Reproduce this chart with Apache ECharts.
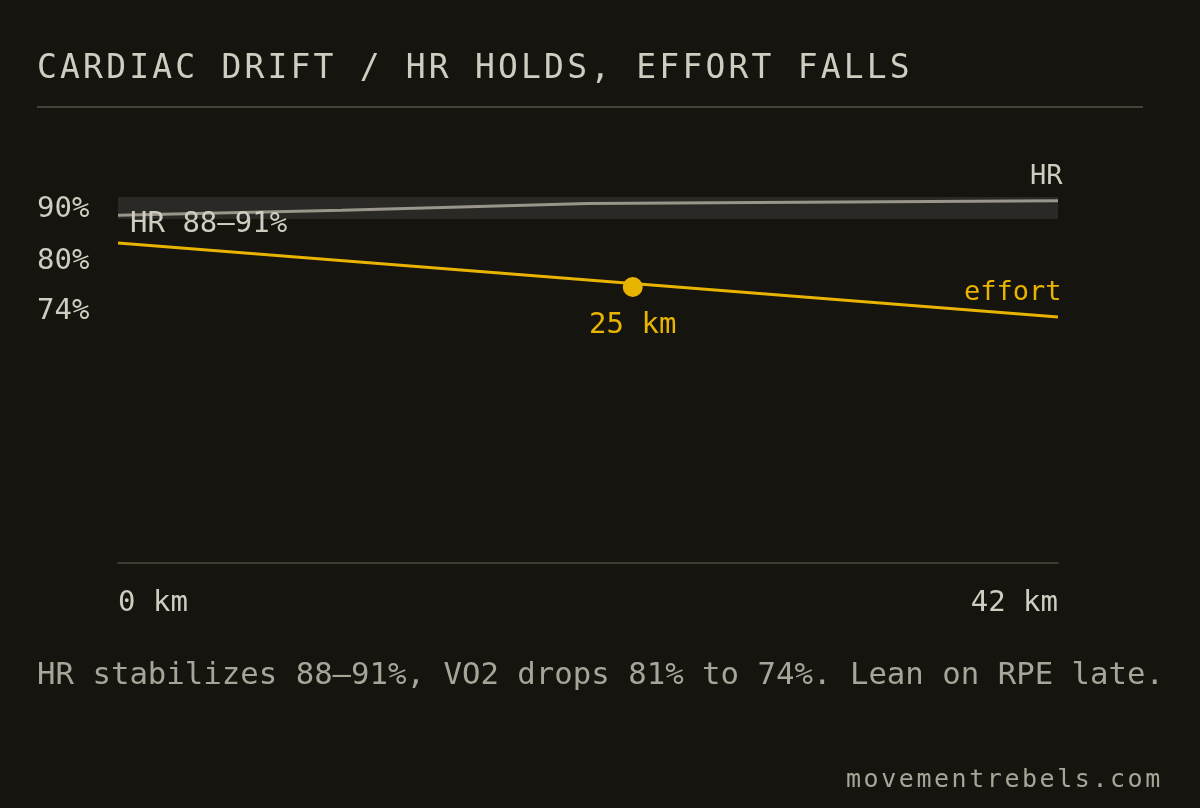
<!DOCTYPE html>
<html><head><meta charset="utf-8">
<script src="https://cdn.jsdelivr.net/npm/echarts@6/dist/echarts.min.js"></script>
<style>html,body{margin:0;background:#15140f}#c{width:1200px;height:808px}</style>
</head><body><div id="c"></div>
<script>
const title = 'CARDIAC DRIFT / HR HOLDS, EFFORT FALLS';
const footer = 'HR stabilizes 88–91%, VO2 drops 81% to 74%. Lean on RPE late.';
const credit = 'movementrebels.com';
const xTicks = ['0 km', '42 km'];
const yTickLabels = ['90%', '80%', '74%'];
const hrKm = [0, 10, 21, 42];
const hrValues = [88.5, 89.2, 90.1, 90.5];
const hrBand = [88, 91];
const effortKm = [0, 42];
const effortValues = [81, 74];
const markKm = 23, markValue = 76.84, markLabel = '25 km';
const bandLabel = 'HR 88–91%';

const font = 'DejaVu Sans Mono';
function spaced(text, x, y, step, size, fill) {
  return text.split('').map((ch, i) => ({type: 'text', x: x + i * step, y: y, z: 100,
    style: {text: ch, fill: fill, font: size + 'px ' + font}}));
}
const chart = echarts.init(document.getElementById('c'));
chart.setOption({
  backgroundColor: '#15140f',
  animation: false,
  grid: {left: 118, right: 142, top: 160, bottom: 245},
  xAxis: {type: 'value', min: 0, max: 42, interval: 42,
    axisLine: {lineStyle: {color: '#3d3b32', width: 2}}, axisTick: {show: false}, splitLine: {show: false},
    axisLabel: {color: '#d0ccc0', fontFamily: font, fontSize: 29, margin: 26,
      alignMinLabel: 'left', alignMaxLabel: 'right',
      formatter: v => v === 0 ? xTicks[0] : xTicks[1]}},
  yAxis: [
    {type: 'value', min: 50.75, max: 88.85, show: false},
    {type: 'value', min: 41, max: 96.05, show: false}
  ],
  graphic: [
    ...spaced(title, 37, 53, 23.05, 33, '#d0ccc0'),
    {type: 'rect', z: 100, shape: {x: 37, y: 106, width: 1106, height: 2}, style: {fill: '#444238'}},
    ...yTickLabels.map((t, i) => ({type: 'text', z: 100, left: 37, top: [195, 247, 297][i],
      style: {text: t, fill: '#d0ccc0', font: '29px ' + font}})),
    {type: 'text', z: 100, left: 130, top: 210, style: {text: bandLabel, fill: '#d0ccc0', font: '29px ' + font}},
    {type: 'text', z: 100, left: 37, top: 661, style: {text: footer, fill: '#a8a498', font: '30.7px ' + font}},
    ...spaced(credit, 846, 768, 17.6, 25, '#a8a498')
  ],
  series: [
    {type: 'line', yAxisIndex: 1, data: hrKm.map((k, i) => [k, hrValues[i]]), symbol: 'none',
      lineStyle: {color: '#9a968c', width: 3}, z: 3,
      endLabel: {show: true, formatter: 'HR', color: '#d0ccc0', fontFamily: font, fontSize: 27,
        offset: [-36, -24]},
      markArea: {silent: true, itemStyle: {color: '#2a2925'},
        data: [[{yAxis: hrBand[0], xAxis: 0}, {yAxis: hrBand[1], xAxis: 42}]]}},
    {type: 'line', data: effortKm.map((k, i) => [k, effortValues[i]]), symbol: 'none',
      lineStyle: {color: '#e8b400', width: 3}, z: 4,
      endLabel: {show: true, formatter: 'effort', color: '#e8b400', fontFamily: font, fontSize: 27,
        offset: [-102, -24]},
      markPoint: {symbol: 'circle', symbolSize: 20, itemStyle: {color: '#e8b400'},
        data: [{coord: [markKm, markValue]}],
        label: {show: true, position: 'bottom', distance: 14, formatter: markLabel,
          color: '#e8b400', fontFamily: font, fontSize: 29}}}
  ]
});
</script></body></html>
